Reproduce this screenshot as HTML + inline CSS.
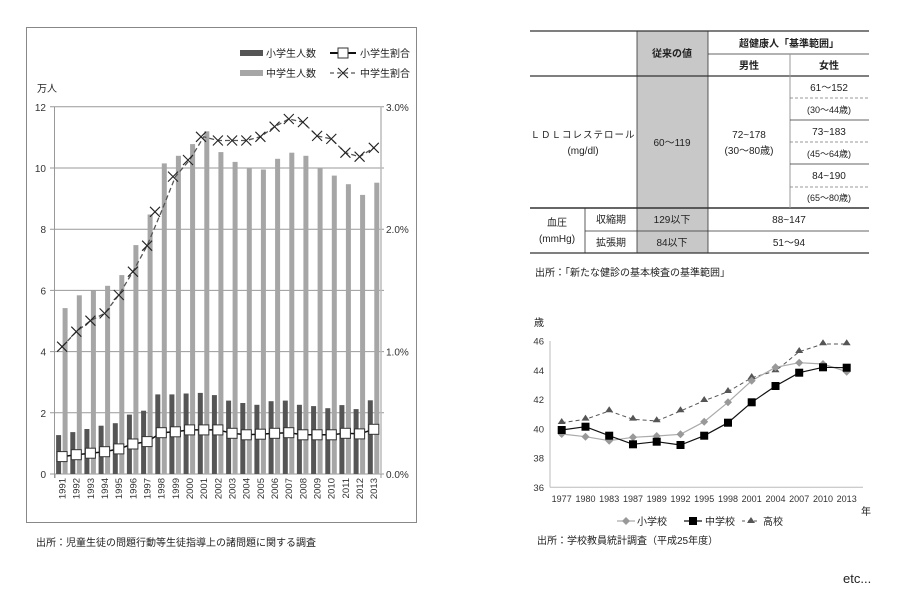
<!DOCTYPE html>
<html><head><meta charset="utf-8"><style>
body{margin:0;background:#fff;}
svg{display:block;font-family:"Liberation Sans","Noto Sans CJK JP",sans-serif;}
</style></head><body>
<svg width="900" height="600" viewBox="0 0 900 600" xmlns="http://www.w3.org/2000/svg">
<defs>
<path id="x" d="M-5,-5L5,5M-5,5L5,-5" stroke="#222" stroke-width="1.1" fill="none"/>
<rect id="sq" x="-5" y="-5" width="10" height="10" fill="#fff" stroke="#333" stroke-width="1"/>
</defs>
<rect x="26.5" y="27.5" width="390" height="495" fill="#fff" stroke="#888" stroke-width="1"/>
<rect x="240" y="50" width="23" height="6" fill="#555"/>
<text x="266" y="57" font-size="10" fill="#222">小学生人数</text>
<rect x="240" y="70" width="23" height="6" fill="#a6a6a6"/>
<text x="266" y="77" font-size="10" fill="#222">中学生人数</text>
<line x1="330" y1="53" x2="356" y2="53" stroke="#111" stroke-width="2"/>
<rect x="338" y="48" width="10" height="10" fill="#fff" stroke="#333"/>
<text x="360" y="57" font-size="10" fill="#222">小学生割合</text>
<line x1="330" y1="73" x2="356" y2="73" stroke="#555" stroke-width="1.2" stroke-dasharray="4,3"/>
<use href="#x" x="343" y="73"/>
<text x="360" y="77" font-size="10" fill="#222">中学生割合</text>
<text x="37" y="92" font-size="10" fill="#222">万人</text>
<g stroke="#999" stroke-width="1">
<line x1="50" y1="474" x2="384" y2="474"/>
<line x1="50" y1="412.8" x2="384" y2="412.8"/>
<line x1="50" y1="351.6" x2="384" y2="351.6"/>
<line x1="50" y1="290.4" x2="384" y2="290.4"/>
<line x1="50" y1="229.2" x2="384" y2="229.2"/>
<line x1="50" y1="168" x2="384" y2="168"/>
<line x1="50" y1="106.8" x2="384" y2="106.8"/>
<line x1="54.5" y1="106.8" x2="54.5" y2="478"/>
</g>
<line x1="381" y1="106.8" x2="381" y2="474" stroke="#bbb" stroke-width="1.5"/>
<g font-size="10" fill="#333" text-anchor="end">
<text x="46" y="478">0</text><text x="46" y="416.8">2</text><text x="46" y="355.6">4</text>
<text x="46" y="294.4">6</text><text x="46" y="233.2">8</text><text x="46" y="172">10</text><text x="46" y="110.8">12</text>
</g>
<g font-size="10" fill="#333">
<text x="386" y="478">0.0%</text><text x="386" y="355.6">1.0%</text><text x="386" y="233.2">2.0%</text><text x="386" y="110.8">3.0%</text>
</g>
<g transform="translate(0,474) scale(1,-1)">
<g fill="#555">
<rect x="56.1" y="0" width="5" height="38.9"/><rect x="70.3" y="0" width="5" height="41.9"/><rect x="84.4" y="0" width="5" height="45"/><rect x="98.6" y="0" width="5" height="48.3"/><rect x="112.8" y="0" width="5" height="50.8"/><rect x="126.9" y="0" width="5" height="59.4"/><rect x="141.1" y="0" width="5" height="63.3"/><rect x="155.3" y="0" width="5" height="79.6"/><rect x="169.4" y="0" width="5" height="79.6"/><rect x="183.6" y="0" width="5" height="80.5"/><rect x="197.8" y="0" width="5" height="81.1"/><rect x="211.9" y="0" width="5" height="78.9"/><rect x="226.1" y="0" width="5" height="73.4"/><rect x="240.3" y="0" width="5" height="71"/><rect x="254.4" y="0" width="5" height="69.2"/><rect x="268.6" y="0" width="5" height="72.8"/><rect x="282.8" y="0" width="5" height="73.4"/><rect x="296.9" y="0" width="5" height="69.2"/><rect x="311.1" y="0" width="5" height="67.9"/><rect x="325.3" y="0" width="5" height="65.8"/><rect x="339.4" y="0" width="5" height="68.9"/><rect x="353.6" y="0" width="5" height="64.9"/><rect x="367.8" y="0" width="5" height="73.7"/>
</g>
<g fill="#a6a6a6">
<rect x="62.6" y="0" width="5" height="165.9"/><rect x="76.8" y="0" width="5" height="178.7"/><rect x="90.9" y="0" width="5" height="183.6"/><rect x="105.1" y="0" width="5" height="188.2"/><rect x="119.3" y="0" width="5" height="198.9"/><rect x="133.4" y="0" width="5" height="228.9"/><rect x="147.6" y="0" width="5" height="259.5"/><rect x="161.8" y="0" width="5" height="310.6"/><rect x="175.9" y="0" width="5" height="318.2"/><rect x="190.1" y="0" width="5" height="329.9"/><rect x="204.3" y="0" width="5" height="342.7"/><rect x="218.4" y="0" width="5" height="321.9"/><rect x="232.6" y="0" width="5" height="312.1"/><rect x="246.8" y="0" width="5" height="306"/><rect x="260.9" y="0" width="5" height="304.5"/><rect x="275.1" y="0" width="5" height="315.2"/><rect x="289.3" y="0" width="5" height="321.3"/><rect x="303.4" y="0" width="5" height="318.2"/><rect x="317.6" y="0" width="5" height="306"/><rect x="331.8" y="0" width="5" height="298.4"/><rect x="345.9" y="0" width="5" height="289.8"/><rect x="360.1" y="0" width="5" height="279.1"/><rect x="374.3" y="0" width="5" height="291.3"/>
</g>
</g>
<g stroke="#999"><line x1="55" y1="474" x2="55" y2="478"/><line x1="381" y1="474" x2="381" y2="478"/></g>
<polyline fill="none" stroke="#555" stroke-width="1.3" stroke-dasharray="5,3" points="62.1,346.7 76.3,331.7 90.4,320.7 104.6,313.4 118.8,295 132.9,271.7 147.1,245.7 161.3,211.8 175.4,176.6 189.6,160 203.8,136.8 217.9,140.5 232.1,140.5 246.3,140.5 260.4,136.8 274.6,126.7 288.8,119 302.9,122.1 317.1,135.9 331.3,138.9 345.4,152.7 359.6,156.7 373.8,147.8"/>
<use href="#x" x="62.1" y="346.7"/><use href="#x" x="76.3" y="331.7"/><use href="#x" x="90.4" y="320.7"/><use href="#x" x="104.6" y="313.4"/><use href="#x" x="118.8" y="295"/><use href="#x" x="132.9" y="271.7"/><use href="#x" x="147.1" y="245.7"/><use href="#x" x="155" y="211.8"/><use href="#x" x="173" y="176.6"/><use href="#x" x="188" y="160"/><use href="#x" x="201" y="136.8"/><use href="#x" x="217.9" y="140.5"/><use href="#x" x="232.1" y="140.5"/><use href="#x" x="246.3" y="140.5"/><use href="#x" x="260.4" y="136.8"/><use href="#x" x="274.6" y="126.7"/><use href="#x" x="288.8" y="119"/><use href="#x" x="302.9" y="122.1"/><use href="#x" x="317.1" y="135.9"/><use href="#x" x="331.3" y="138.9"/><use href="#x" x="345.4" y="152.7"/><use href="#x" x="359.6" y="156.7"/><use href="#x" x="373.8" y="147.8"/>
<polyline fill="none" stroke="#111" stroke-width="1.5" points="62.1,456.6 76.3,454.7 90.4,453.2 104.6,451.7 118.8,448.9 132.9,444 147.1,441.6 161.3,432.7 175.4,431.8 189.6,429.9 203.8,429.9 217.9,429.9 232.1,433.3 246.3,434.8 260.4,434.2 274.6,433.3 288.8,432.7 302.9,434.8 317.1,434.8 331.3,434.8 345.4,433.3 359.6,433.9 373.8,429.3"/>
<use href="#sq" x="62.1" y="456.6"/><use href="#sq" x="76.3" y="454.7"/><use href="#sq" x="90.4" y="453.2"/><use href="#sq" x="104.6" y="451.7"/><use href="#sq" x="118.8" y="448.9"/><use href="#sq" x="132.9" y="444"/><use href="#sq" x="147.1" y="441.6"/><use href="#sq" x="161.3" y="432.7"/><use href="#sq" x="175.4" y="431.8"/><use href="#sq" x="189.6" y="429.9"/><use href="#sq" x="203.8" y="429.9"/><use href="#sq" x="217.9" y="429.9"/><use href="#sq" x="232.1" y="433.3"/><use href="#sq" x="246.3" y="434.8"/><use href="#sq" x="260.4" y="434.2"/><use href="#sq" x="274.6" y="433.3"/><use href="#sq" x="288.8" y="432.7"/><use href="#sq" x="302.9" y="434.8"/><use href="#sq" x="317.1" y="434.8"/><use href="#sq" x="331.3" y="434.8"/><use href="#sq" x="345.4" y="433.3"/><use href="#sq" x="359.6" y="433.9"/><use href="#sq" x="373.8" y="429.3"/>
<g font-size="9.5" fill="#333" text-anchor="end">
<text transform="translate(65.5,478) rotate(-90)">1991</text><text transform="translate(79.7,478) rotate(-90)">1992</text><text transform="translate(93.8,478) rotate(-90)">1993</text><text transform="translate(108,478) rotate(-90)">1994</text><text transform="translate(122.2,478) rotate(-90)">1995</text><text transform="translate(136.3,478) rotate(-90)">1996</text><text transform="translate(150.5,478) rotate(-90)">1997</text><text transform="translate(164.7,478) rotate(-90)">1998</text><text transform="translate(178.8,478) rotate(-90)">1999</text><text transform="translate(193,478) rotate(-90)">2000</text><text transform="translate(207.2,478) rotate(-90)">2001</text><text transform="translate(221.3,478) rotate(-90)">2002</text><text transform="translate(235.5,478) rotate(-90)">2003</text><text transform="translate(249.7,478) rotate(-90)">2004</text><text transform="translate(263.8,478) rotate(-90)">2005</text><text transform="translate(278,478) rotate(-90)">2006</text><text transform="translate(292.2,478) rotate(-90)">2007</text><text transform="translate(306.3,478) rotate(-90)">2008</text><text transform="translate(320.5,478) rotate(-90)">2009</text><text transform="translate(334.7,478) rotate(-90)">2010</text><text transform="translate(348.8,478) rotate(-90)">2011</text><text transform="translate(363,478) rotate(-90)">2012</text><text transform="translate(377.2,478) rotate(-90)">2013</text>
</g>
<text x="36" y="546" font-size="10" fill="#222">出所：児童生徒の問題行動等生徒指導上の諸問題に関する調査</text>

<rect x="637" y="31" width="71" height="222" fill="#c8c8c8"/>
<g stroke="#333" stroke-width="1.2">
<line x1="530" y1="31" x2="869" y2="31"/>
<line x1="530" y1="76" x2="869" y2="76"/>
<line x1="530" y1="208" x2="869" y2="208" stroke-width="1.5"/>
<line x1="585" y1="231" x2="869" y2="231" stroke-width="0.8"/>
<line x1="530" y1="253" x2="869" y2="253"/>
<line x1="708" y1="54" x2="869" y2="54" stroke-width="0.8"/>
<line x1="637" y1="31" x2="637" y2="253" stroke-width="0.8"/>
<line x1="708" y1="31" x2="708" y2="253" stroke-width="0.8"/>
<line x1="585" y1="208" x2="585" y2="253" stroke-width="0.8"/>
<line x1="790" y1="54" x2="790" y2="208" stroke="#999" stroke-width="1"/>
<line x1="790" y1="120" x2="869" y2="120" stroke-width="0.8"/>
<line x1="790" y1="164" x2="869" y2="164" stroke-width="0.8"/>
</g>
<g stroke="#777" stroke-width="0.8" stroke-dasharray="3,2">
<line x1="790" y1="98" x2="869" y2="98"/><line x1="790" y1="142" x2="869" y2="142"/><line x1="790" y1="187" x2="869" y2="187"/>
</g>
<g font-size="10" fill="#222" text-anchor="middle">
<text x="672" y="57" font-weight="bold">従来の値</text>
<text x="789" y="47" font-weight="bold">超健康人「基準範囲」</text>
<text x="749" y="69" font-weight="bold">男性</text>
<text x="829" y="69" font-weight="bold">女性</text>
<text x="583" y="138" font-size="9.5" letter-spacing="1">ＬＤＬコレステロール</text>
<text x="583" y="154">(mg/dl)</text>
<text x="672" y="146">60～119</text>
<text x="749" y="138">72~178</text>
<text x="749" y="154">(30～80歳)</text>
<text x="829" y="91">61～152</text>
<text x="829" y="113" font-size="9">(30～44歳)</text>
<text x="829" y="135">73~183</text>
<text x="829" y="157" font-size="9">(45～64歳)</text>
<text x="829" y="179">84~190</text>
<text x="829" y="201" font-size="9">(65～80歳)</text>
<text x="557" y="226">血圧</text>
<text x="557" y="242">(mmHg)</text>
<text x="611" y="223">収縮期</text>
<text x="611" y="246">拡張期</text>
<text x="672" y="223">129以下</text>
<text x="672" y="246">84以下</text>
<text x="789" y="223">88~147</text>
<text x="789" y="246">51～94</text>
</g>
<text x="535" y="276" font-size="10" fill="#222">出所：「新たな健診の基本検査の基準範囲」</text>

<text x="534" y="326" font-size="10" fill="#222">歳</text>
<g stroke="#bbb" stroke-width="1"><line x1="550" y1="341" x2="550" y2="487.3"/><line x1="550" y1="487.3" x2="863" y2="487.3"/></g>
<g font-size="9.5" fill="#333" text-anchor="end">
<text x="544" y="344.5">46</text><text x="544" y="373.8">44</text><text x="544" y="403">42</text><text x="544" y="432.3">40</text><text x="544" y="461.5">38</text><text x="544" y="490.8">36</text>
</g>
<g font-size="9" fill="#333" text-anchor="middle">
<text x="561.7" y="502">1977</text><text x="585.5" y="502">1980</text><text x="609.2" y="502">1983</text><text x="633" y="502">1987</text><text x="656.7" y="502">1989</text><text x="680.5" y="502">1992</text><text x="704.2" y="502">1995</text><text x="728" y="502">1998</text><text x="751.7" y="502">2001</text><text x="775.5" y="502">2004</text><text x="799.2" y="502">2007</text><text x="823" y="502">2010</text><text x="846.7" y="502">2013</text>
</g>
<text x="861" y="515" font-size="10" fill="#222">年</text>
<polyline fill="none" stroke="#555" stroke-width="1" stroke-dasharray="4,3" points="561.7,422.7 585.5,419.3 609.2,411 633,419.3 656.7,421 680.5,411 704.2,400.7 728,391.7 751.7,377.7 775.5,371 799.2,351.7 823,344 846.7,344"/>
<polyline fill="none" stroke="#aaa" stroke-width="1.2" points="561.7,434 585.5,436.7 609.2,440.7 633,437.3 656.7,436 680.5,434.3 704.2,421.7 728,402.3 751.7,380.7 775.5,367.3 799.2,362.7 823,364 846.7,371.7"/>
<polyline fill="none" stroke="#111" stroke-width="1.2" points="561.7,430 585.5,426.7 609.2,435.7 633,444.3 656.7,441.7 680.5,445 704.2,435.7 728,422.7 751.7,402.3 775.5,386 799.2,372.7 823,367.3 846.7,367.7"/>
<g fill="#555">
<path d="M561.7,418l4,6h-8z"/><path d="M585.5,414.6l4,6h-8z"/><path d="M609.2,406.3l4,6h-8z"/><path d="M633,414.6l4,6h-8z"/><path d="M656.7,416.3l4,6h-8z"/><path d="M680.5,406.3l4,6h-8z"/><path d="M704.2,396l4,6h-8z"/><path d="M728,387l4,6h-8z"/><path d="M751.7,373l4,6h-8z"/><path d="M775.5,366.3l4,6h-8z"/><path d="M799.2,347l4,6h-8z"/><path d="M823,339.3l4,6h-8z"/><path d="M846.7,339.3l4,6h-8z"/>
</g>
<g fill="#999">
<path d="M561.7,430l4,4-4,4-4-4z"/><path d="M585.5,432.7l4,4-4,4-4-4z"/><path d="M609.2,436.7l4,4-4,4-4-4z"/><path d="M633,433.3l4,4-4,4-4-4z"/><path d="M656.7,432l4,4-4,4-4-4z"/><path d="M680.5,430.3l4,4-4,4-4-4z"/><path d="M704.2,417.7l4,4-4,4-4-4z"/><path d="M728,398.3l4,4-4,4-4-4z"/><path d="M751.7,376.7l4,4-4,4-4-4z"/><path d="M775.5,363.3l4,4-4,4-4-4z"/><path d="M799.2,358.7l4,4-4,4-4-4z"/><path d="M823,360l4,4-4,4-4-4z"/><path d="M846.7,367.7l4,4-4,4-4-4z"/>
</g>
<g fill="#000">
<rect x="557.7" y="426" width="8" height="8"/><rect x="581.5" y="422.7" width="8" height="8"/><rect x="605.2" y="431.7" width="8" height="8"/><rect x="629" y="440.3" width="8" height="8"/><rect x="652.7" y="437.7" width="8" height="8"/><rect x="676.5" y="441" width="8" height="8"/><rect x="700.2" y="431.7" width="8" height="8"/><rect x="724" y="418.7" width="8" height="8"/><rect x="747.7" y="398.3" width="8" height="8"/><rect x="771.5" y="382" width="8" height="8"/><rect x="795.2" y="368.7" width="8" height="8"/><rect x="819" y="363.3" width="8" height="8"/><rect x="842.7" y="363.7" width="8" height="8"/>
</g>
<line x1="617" y1="521" x2="635" y2="521" stroke="#aaa" stroke-width="1.2"/>
<path d="M626,517l4,4-4,4-4-4z" fill="#999"/>
<text x="637" y="525" font-size="10" fill="#222">小学校</text>
<line x1="684" y1="521" x2="702" y2="521" stroke="#111" stroke-width="1.2"/>
<rect x="689" y="517" width="8" height="8" fill="#000"/>
<text x="705" y="525" font-size="10" fill="#222">中学校</text>
<line x1="742" y1="521" x2="760" y2="521" stroke="#555" stroke-dasharray="3,3"/>
<path d="M751,517l4,6h-8z" fill="#555"/>
<text x="763" y="525" font-size="10" fill="#222">高校</text>
<text x="537" y="544" font-size="10" fill="#222">出所：学校教員統計調査（平成25年度）</text>

<text x="843" y="583" font-size="13" fill="#222">etc...</text>
</svg>
</body></html>
